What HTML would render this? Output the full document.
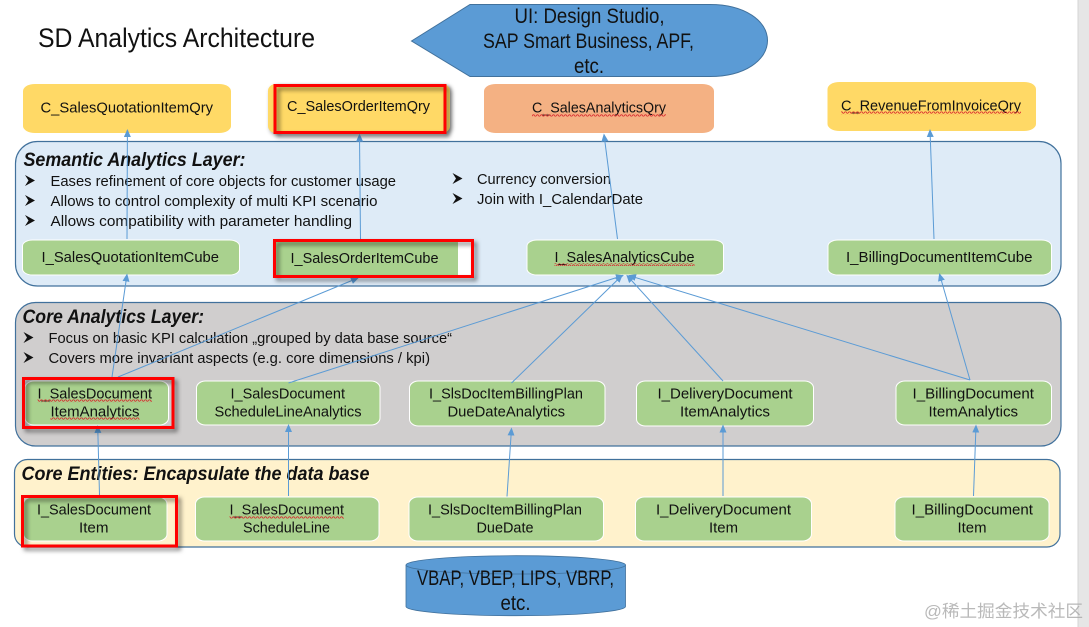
<!DOCTYPE html>
<html>
<head>
<meta charset="utf-8">
<style>
html,body{margin:0;padding:0;background:#fff;width:1089px;height:627px;overflow:hidden}
svg{display:block}
text{font-family:"Liberation Sans","Noto Sans CJK SC",sans-serif;fill:#111}
.n{font-size:15px}
.b{font-size:14.5px}
.h{font-size:19px;font-weight:bold;font-style:italic}
.l{font-size:21px}
.a{stroke:#5b9bd5;stroke-width:1;fill:none;marker-end:url(#ah)}
.g{fill:#a9d18e;stroke:#fff;stroke-width:1}
.y{fill:#ffd966}
.r{fill:none;stroke:#f00;stroke-width:3;filter:drop-shadow(3px 3px 2px rgba(0,0,0,.5))}
</style>
</head>
<body>
<svg width="1089" height="627" viewBox="0 0 1089 627" xmlns="http://www.w3.org/2000/svg">
<defs>
<marker id="ah" markerWidth="9" markerHeight="8" refX="7" refY="3.5" orient="auto" markerUnits="userSpaceOnUse">
<path d="M0 0L8 3.5L0 7Z" fill="#5b9bd5"/>
</marker>
<pattern id="sq" width="4" height="3" patternUnits="userSpaceOnUse">
<path d="M0 2.2L1 .8L2 .8L3 2.2L4 2.2" fill="none" stroke="#d8262c" stroke-width=".8"/>
</pattern>
<path id="bu" d="M0 0L10 5.5L0 11L3.5 5.5Z" fill="#111"/>
</defs>

<rect x="1078" y="0" width="11" height="627" fill="#e6e6e6"/>
<rect x="1077.5" y="0" width="1" height="627" fill="#d4d4d4"/>

<text x="38" y="47" font-size="27" textLength="277" lengthAdjust="spacingAndGlyphs">SD Analytics Architecture</text>

<path d="M411.5 41L470 4.5H710C745 4.5 767.5 21 767.5 40.5C767.5 60 745 76.5 710 76.5H470Z" fill="#5b9bd5" stroke="#41719c"/>
<text class="l" x="514.5" y="23" textLength="150" lengthAdjust="spacingAndGlyphs">UI: Design Studio,</text>
<text class="l" x="483" y="48" textLength="211" lengthAdjust="spacingAndGlyphs">SAP Smart Business, APF,</text>
<text class="l" x="574" y="73" textLength="30" lengthAdjust="spacingAndGlyphs">etc.</text>

<rect class="y" x="23" y="84" width="208" height="49" rx="12" ry="7"/>
<rect class="y" x="268" y="84" width="182" height="49" rx="8" ry="7" style="filter:drop-shadow(2px 2px 2px rgba(0,0,0,.45))"/>
<rect x="484" y="84" width="230" height="49" rx="12" ry="7" fill="#f4b183"/>
<rect class="y" x="827.5" y="82" width="208.5" height="49" rx="12" ry="7"/>
<text class="n" x="40.5" y="112.5" textLength="172.5" lengthAdjust="spacingAndGlyphs">C_SalesQuotationItemQry</text>
<text class="n" x="532" y="112.5" textLength="134" lengthAdjust="spacingAndGlyphs">C_SalesAnalyticsQry</text>
<text class="n" x="841" y="110.5" textLength="180" lengthAdjust="spacingAndGlyphs">C_RevenueFromInvoiceQry</text>
<rect x="532" y="113.5" width="134" height="3" fill="url(#sq)"/>
<rect x="841" y="111.5" width="180" height="3" fill="url(#sq)"/>

<rect x="15.5" y="141.5" width="1045.5" height="144.5" rx="22" fill="#deebf7" stroke="#41719c" stroke-width="1.2"/>
<rect x="15.5" y="302.5" width="1045.5" height="143.5" rx="20" fill="#d0cece" stroke="#41719c" stroke-width="1.2"/>
<rect x="14.5" y="459.5" width="1045.5" height="87.5" rx="13" fill="#fff2cc" stroke="#41719c" stroke-width="1.2"/>

<text class="h" x="23.5" y="166" textLength="222" lengthAdjust="spacingAndGlyphs">Semantic Analytics Layer:</text>
<use href="#bu" x="25" y="175"/>
<use href="#bu" x="25" y="195"/>
<use href="#bu" x="25" y="215"/>
<use href="#bu" x="452.5" y="173"/>
<use href="#bu" x="452.5" y="193"/>
<text class="b" x="50.5" y="186" textLength="345.5" lengthAdjust="spacingAndGlyphs">Eases refinement of core objects for customer usage</text>
<text class="b" x="50.5" y="206" textLength="327" lengthAdjust="spacingAndGlyphs">Allows to control complexity of multi KPI scenario</text>
<text class="b" x="50.5" y="226" textLength="301.5" lengthAdjust="spacingAndGlyphs">Allows compatibility with parameter handling</text>
<text class="b" x="477" y="184" textLength="134" lengthAdjust="spacingAndGlyphs">Currency conversion</text>
<text class="b" x="477" y="204" textLength="166" lengthAdjust="spacingAndGlyphs">Join with I_CalendarDate</text>

<rect class="g" x="22.5" y="240" width="217" height="35" rx="10" ry="6"/>
<rect x="452" y="242" width="19" height="33" fill="#fff"/>
<rect x="274" y="241" width="184" height="35" fill="#a9d18e"/>
<rect class="g" x="527" y="240" width="196.5" height="35" rx="10" ry="6"/>
<rect class="g" x="828" y="240" width="223.5" height="35" rx="10" ry="6"/>
<text class="n" x="41.5" y="262" textLength="177.5" lengthAdjust="spacingAndGlyphs">I_SalesQuotationItemCube</text>
<text class="n" x="290.5" y="263" textLength="148" lengthAdjust="spacingAndGlyphs">I_SalesOrderItemCube</text>
<text class="n" x="554.5" y="262" textLength="140" lengthAdjust="spacingAndGlyphs">I_SalesAnalyticsCube</text>
<text class="n" x="846" y="262" textLength="186.5" lengthAdjust="spacingAndGlyphs">I_BillingDocumentItemCube</text>
<rect x="554.5" y="263" width="140" height="3" fill="url(#sq)"/>

<text class="h" x="22.5" y="323" textLength="181.5" lengthAdjust="spacingAndGlyphs">Core Analytics Layer:</text>
<use href="#bu" x="23.5" y="332"/>
<use href="#bu" x="23.5" y="352"/>
<text class="b" x="48.5" y="343" textLength="403.5" lengthAdjust="spacingAndGlyphs">Focus on basic KPI calculation „grouped by data base source“</text>
<text class="b" x="48.5" y="363" textLength="381.5" lengthAdjust="spacingAndGlyphs">Covers more invariant aspects (e.g. core dimensions / kpi)</text>

<rect class="g" x="25" y="381" width="143.5" height="44" rx="9" ry="7"/>
<rect class="g" x="196.5" y="381" width="183.5" height="44" rx="9" ry="7"/>
<rect class="g" x="409.5" y="381" width="195.5" height="45" rx="9" ry="7"/>
<rect class="g" x="636.5" y="381" width="177" height="45" rx="9" ry="7"/>
<rect class="g" x="896" y="381" width="155.5" height="44" rx="9" ry="7"/>
<text class="n" x="37.5" y="398.5" textLength="114.5" lengthAdjust="spacingAndGlyphs">I_SalesDocument</text>
<text class="n" x="50.5" y="416.5" textLength="89" lengthAdjust="spacingAndGlyphs">ItemAnalytics</text>
<rect x="37.5" y="399.5" width="114.5" height="3" fill="url(#sq)"/>
<rect x="50.5" y="417.5" width="89" height="3" fill="url(#sq)"/>
<text class="n" x="230.5" y="398.5" textLength="114.5" lengthAdjust="spacingAndGlyphs">I_SalesDocument</text>
<text class="n" x="214.5" y="416.5" textLength="147" lengthAdjust="spacingAndGlyphs">ScheduleLineAnalytics</text>
<text class="n" x="429" y="398.5" textLength="154" lengthAdjust="spacingAndGlyphs">I_SlsDocItemBillingPlan</text>
<text class="n" x="447.5" y="416.5" textLength="117.5" lengthAdjust="spacingAndGlyphs">DueDateAnalytics</text>
<text class="n" x="657.5" y="398.5" textLength="135" lengthAdjust="spacingAndGlyphs">I_DeliveryDocument</text>
<text class="n" x="680" y="416.5" textLength="90" lengthAdjust="spacingAndGlyphs">ItemAnalytics</text>
<text class="n" x="912.5" y="398.5" textLength="121.5" lengthAdjust="spacingAndGlyphs">I_BillingDocument</text>
<text class="n" x="928.5" y="416.5" textLength="89.5" lengthAdjust="spacingAndGlyphs">ItemAnalytics</text>

<text class="h" x="21.5" y="480" textLength="348" lengthAdjust="spacingAndGlyphs">Core Entities: Encapsulate the data base</text>

<rect class="g" x="23.5" y="497" width="143.5" height="44" rx="9" ry="7"/>
<rect class="g" x="195.5" y="497" width="183.5" height="44" rx="9" ry="7"/>
<rect class="g" x="409" y="497" width="194.5" height="44" rx="9" ry="7"/>
<rect class="g" x="635.5" y="497" width="176" height="44" rx="9" ry="7"/>
<rect class="g" x="895" y="497" width="154" height="44" rx="9" ry="7"/>
<text class="n" x="37" y="514.5" textLength="114" lengthAdjust="spacingAndGlyphs">I_SalesDocument</text>
<text class="n" x="79" y="532.5" textLength="29.5" lengthAdjust="spacingAndGlyphs">Item</text>
<text class="n" x="229.5" y="514.5" textLength="114.5" lengthAdjust="spacingAndGlyphs">I_SalesDocument</text>
<text class="n" x="243" y="532.5" textLength="87" lengthAdjust="spacingAndGlyphs">ScheduleLine</text>
<rect x="229.5" y="515.5" width="114.5" height="3" fill="url(#sq)"/>
<text class="n" x="428" y="514.5" textLength="154" lengthAdjust="spacingAndGlyphs">I_SlsDocItemBillingPlan</text>
<text class="n" x="476.5" y="532.5" textLength="57" lengthAdjust="spacingAndGlyphs">DueDate</text>
<text class="n" x="656" y="514.5" textLength="135" lengthAdjust="spacingAndGlyphs">I_DeliveryDocument</text>
<text class="n" x="709" y="532.5" textLength="29" lengthAdjust="spacingAndGlyphs">Item</text>
<text class="n" x="911.5" y="514.5" textLength="121.5" lengthAdjust="spacingAndGlyphs">I_BillingDocument</text>
<text class="n" x="957.5" y="532.5" textLength="29" lengthAdjust="spacingAndGlyphs">Item</text>

<path class="a" d="M127 239L127.4 130"/>
<path class="a" d="M360.5 239L359.5 134.5"/>
<path class="a" d="M617.5 239L604 134.5"/>
<path class="a" d="M934 239L930 130"/>
<path class="a" d="M112 377L127 274.5"/>
<path class="a" d="M118 377L358 278"/>
<path class="a" d="M288.5 383L623 275.5"/>
<path class="a" d="M511.5 383L622 275.5"/>
<path class="a" d="M723 381L627 275.5"/>
<path class="a" d="M970 380L629 275.5"/>
<path class="a" d="M970 380L939.5 274"/>
<path class="a" d="M99.5 495L97.7 426"/>
<path class="a" d="M288.5 496V425"/>
<path class="a" d="M507 496.5L511.5 428.5"/>
<path class="a" d="M723 496V425.5"/>
<path class="a" d="M973.5 496L976 425.5"/>

<rect class="r" x="275" y="85.5" width="170" height="47"/>
<rect class="r" x="274.5" y="240.5" width="198" height="36"/>
<rect class="r" x="23.5" y="378.5" width="149.5" height="49"/>
<rect class="r" x="22.5" y="496.5" width="154" height="49.5"/>
<text class="n" x="287" y="111" textLength="143" lengthAdjust="spacingAndGlyphs">C_SalesOrderItemQry</text>

<path d="M406 565C406 560 455 555.7 516 555.7C577 555.7 625.5 560 625.5 565V606.5C625.5 611.5 577 615.7 516 615.7C455 615.7 406 611.5 406 606.5Z" fill="#5b9bd5" stroke="#41719c" stroke-width=".8"/>
<path d="M406 565C406 570 455 574 516 574C577 574 625.5 570 625.5 565" fill="none" stroke="#41719c" stroke-width=".8"/>
<text class="l" x="417" y="585" textLength="197" lengthAdjust="spacingAndGlyphs">VBAP, VBEP, LIPS, VBRP,</text>
<text class="l" x="500.5" y="610" textLength="30" lengthAdjust="spacingAndGlyphs">etc.</text>

<text x="924" y="617" font-size="17" textLength="159" lengthAdjust="spacingAndGlyphs" style="fill:#a8a8a8;fill-opacity:.8">@稀土掘金技术社区</text>
</svg>
</body>
</html>
